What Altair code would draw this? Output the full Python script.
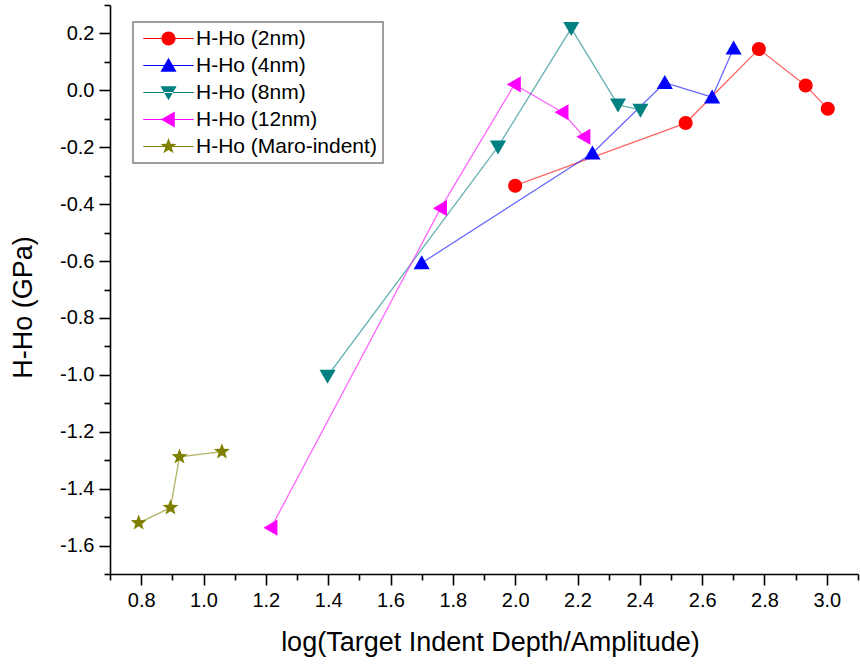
import altair as alt
import pandas as pd

# Series names and colours
series_names = ["H-Ho (2nm)", "H-Ho (4nm)", "H-Ho (8nm)", "H-Ho (12nm)", "H-Ho (Maro-indent)"]
series_colors = ["#ff0000", "#0000ff", "#008080", "#ff00ff", "#808000"]

# log(target indent depth / amplitude) and H - Ho (GPa) for each series
x_2nm = [2.000, 2.547, 2.782, 2.932, 3.003]
y_2nm = [-0.335, -0.115, 0.145, 0.017, -0.065]

x_4nm = [1.700, 2.248, 2.480, 2.632, 2.701]
y_4nm = [-0.607, -0.221, 0.027, -0.024, 0.148]

x_8nm = [1.398, 1.945, 2.180, 2.330, 2.402]
y_8nm = [-1.004, -0.198, 0.218, -0.051, -0.069]

x_12nm = [1.217, 1.761, 1.998, 2.151, 2.221]
y_12nm = [-1.537, -0.414, 0.021, -0.077, -0.163]

x_macro = [0.792, 0.894, 0.923, 1.059]
y_macro = [-1.520, -1.467, -1.288, -1.270]

# Axis tick positions (major every 0.2, minor every 0.1)
x_ticks = [round(0.7 + 0.1 * i, 1) for i in range(25)]
y_ticks = [round(-1.7 + 0.1 * i, 1) for i in range(21)]

xs = [x_2nm, x_4nm, x_8nm, x_12nm, x_macro]
ys = [y_2nm, y_4nm, y_8nm, y_12nm, y_macro]
rows = []
for name, sx, sy in zip(series_names, xs, ys):
    for i, (a, b) in enumerate(zip(sx, sy)):
        rows.append({"series": name, "x": a, "y": b, "idx": i})
df = pd.DataFrame(rows)

# Marker shapes in symbol units
circle = "M-1,0A1,1,0,1,1,1,0A1,1,0,1,1,-1,0Z"
tri_up = "M0,-1.1L1.15,0.9L-1.15,0.9Z"
tri_down = "M0,1.1L1.15,-0.9L-1.15,-0.9Z"
tri_left = "M-1.1,0L0.9,-1.15L0.9,1.15Z"
star = ("M0,-1.2L0.3,-0.41L1.14,-0.37L0.48,0.16L0.71,0.97"
        "L0,0.5L-0.71,0.97L-0.48,0.16L-1.14,-0.37L-0.3,-0.41Z")
marker_paths = [circle, tri_up, tri_down, tri_left, star]

# Legend symbols: a short line segment with the marker in the middle
seg = "M-3.6,-0.07L3.6,-0.07L3.6,0.07L-3.6,0.07Z "
legend_paths = [seg + p for p in marker_paths]

FONT = "Liberation Sans"
major = "abs(round(datum.value*10)) % 2 == 0"
label_expr = (major + " ? ((datum.value < -0.0001 ? '-' : '') + "
              "format(abs(datum.value), '.1f')) : ''")

x_enc = alt.X(
    "x:Q",
    scale=alt.Scale(domain=[0.7, 3.1], nice=False, zero=False),
    axis=alt.Axis(
        values=x_ticks, labelExpr=label_expr,
        tickSize={"condition": {"test": major, "value": 11}, "value": 6},
        title="log(Target Indent Depth/Amplitude)",
        titleX=380, titleY=76, titleBaseline="alphabetic",
        labelPadding=5,
    ),
)
y_enc = alt.Y(
    "y:Q",
    scale=alt.Scale(domain=[-1.7, 0.3], nice=False, zero=False),
    axis=alt.Axis(
        values=y_ticks, labelExpr=label_expr,
        tickSize={"condition": {"test": major, "value": 11}, "value": 6},
        title="H-Ho (GPa)",
        titleX=-87, titleY=302, titleBaseline="middle", titleAngle=-90,
        labelPadding=5,
    ),
)

color_scale = alt.Scale(domain=series_names, range=series_colors)

lines = alt.Chart(df).mark_line(strokeWidth=1.3, opacity=0.6).encode(
    x=x_enc, y=y_enc,
    color=alt.Color("series:N", scale=color_scale, legend=None),
    order="idx:Q",
)

points = alt.Chart(df).mark_point(filled=True, size=196, opacity=1, strokeWidth=0).encode(
    x=x_enc, y=y_enc,
    color=alt.Color("series:N", scale=color_scale, legend=None),
    shape=alt.Shape("series:N", scale=alt.Scale(domain=series_names, range=marker_paths), legend=None),
)

legend_def = alt.Legend(
    title=None, orient="none", legendX=23, legendY=17,
    padding=6, symbolOffset=19, labelOffset=17, symbolSize=196,
    symbolStrokeWidth=0, labelFont=FONT, labelFontSize=21, labelColor="black",
    strokeColor="#808080", fillColor="white", rowPadding=5, labelLimit=400,
    cornerRadius=0,
)

legend_layer = alt.Chart(df).transform_filter("datum.x > 100").mark_point(
    filled=True, size=196, opacity=1, strokeWidth=0
).encode(
    x=x_enc, y=y_enc,
    color=alt.Color("series:N", scale=color_scale, legend=legend_def),
    shape=alt.Shape("series:N", scale=alt.Scale(domain=series_names, range=legend_paths), legend=legend_def),
)

chart = (
    alt.layer(lines, points, legend_layer)
    .resolve_scale(color="independent", shape="independent")
    .properties(
        width=748, height=569, autosize="none",
        padding={"left": 110, "top": 5, "right": 2, "bottom": 91},
        background="white",
    )
    .configure_view(stroke=None)
    .configure_axis(
        grid=False, domainColor="black", domainWidth=1.6, tickColor="black",
        tickWidth=1.6, labelFont=FONT, labelFontSize=20, labelColor="black",
        titleFont=FONT, titleFontSize=27, titleFontWeight="normal", titleColor="black",
        labelOverlap=False, labelBound=False, labelFlush=False,
    )
    .configure_legend(strokeWidth=1.5)
)

chart.save("out.html", embed_options={"renderer": "svg", "actions": False})
